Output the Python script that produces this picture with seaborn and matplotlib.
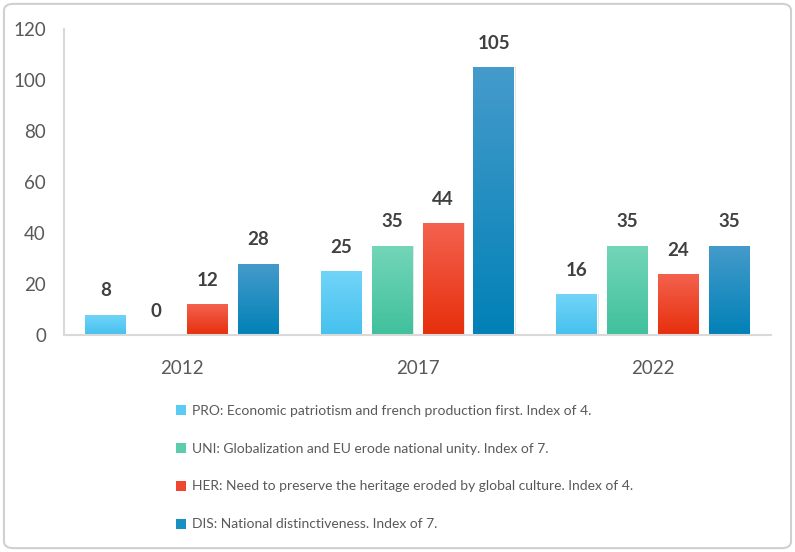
import numpy as np
import pandas as pd
import matplotlib
matplotlib.use("Agg")
import matplotlib.pyplot as plt
import seaborn as sns
from matplotlib.patches import Patch, FancyBboxPatch
from matplotlib.colors import LinearSegmentedColormap

# ---- data ----
years = ["2012", "2017", "2022"]
series = ["PRO", "UNI", "HER", "DIS"]
pro = [8, 25, 16]
uni = [0, 35, 35]
her = [12, 44, 24]
dis = [28, 105, 35]
legend_labels = [
    "PRO: Economic patriotism and french production first. Index of 4.",
    "UNI: Globalization and EU erode national unity. Index of 7.",
    "HER: Need to preserve the heritage eroded by global culture. Index of 4.",
    "DIS: National distinctiveness. Index of 7.",
]

# gradient colours (top, bottom) for each series
grad = {
    "PRO": ("#72d4f8", "#45c1ee"),
    "UNI": ("#74d6b9", "#40c09c"),
    "HER": ("#f4624f", "#e62f0c"),
    "DIS": ("#459bcb", "#0181b7"),
}
solid = {"PRO": "#5bcbf3", "UNI": "#5ccdac", "HER": "#ee4630", "DIS": "#1a8fc2"}

values = {"PRO": pro, "UNI": uni, "HER": her, "DIS": dis}
rows = []
for s in series:
    for y, v in zip(years, values[s]):
        rows.append({"year": y, "series": s, "value": v})
df = pd.DataFrame(rows)

sns.set_theme(style="white")
plt.rcParams["font.family"] = ["Lato", "DejaVu Sans"]

fig = plt.figure(figsize=(7.95, 5.52), dpi=100)
ax = fig.add_axes([64 / 795, 1 - 335 / 552, (771 - 64) / 795, (335 - 29) / 552])

sns.barplot(data=df, x="year", y="value", hue="series", hue_order=series,
            order=years, palette=solid, width=0.864, gap=0.2,
            legend=False, ax=ax, errorbar=None, saturation=1)

ax.set_ylim(0, 120)
ax.set_xlim(-0.5, 2.5)
ax.set_yticks(np.arange(0, 121, 20))
ax.set_xlabel("")
ax.set_ylabel("")

# gradient fill clipped to each bar, plus value labels
for container, s in zip(ax.containers, series):
    cmap = LinearSegmentedColormap.from_list(s, [grad[s][1], grad[s][0]])
    for bar, v in zip(container.patches, values[s]):
        x0, w = bar.get_x(), bar.get_width()
        h = bar.get_height()
        if h > 0:
            # soft shadow behind the bar
            sh = plt.Rectangle((x0 + 0.006, 0), w, h, facecolor="#000000",
                               alpha=0.12, edgecolor="none", zorder=1.5)
            ax.add_patch(sh)
            bar.set_zorder(2)
            img = ax.imshow(np.linspace(0, 1, 256).reshape(-1, 1), cmap=cmap,
                            extent=(x0, x0 + w, 0, h), origin="lower",
                            aspect="auto", zorder=2.1)
            img.set_clip_path(bar)
        ax.annotate(f"{v}", (x0 + w / 2, h), xytext=(0, 11),
                    textcoords="offset points", ha="center", va="bottom",
                    fontsize=13.5, fontweight="bold", color="#404040")
ax.set_xlim(-0.5, 2.5)
ax.set_ylim(0, 120)

for side in ["top", "right"]:
    ax.spines[side].set_visible(False)
for side in ["left", "bottom"]:
    ax.spines[side].set_color("#d9d9d9")
    ax.spines[side].set_linewidth(1.5)
ax.tick_params(axis="y", length=0, pad=13, labelsize=13.5, labelcolor="#595959")
ax.tick_params(axis="x", length=0, pad=18, labelsize=13.5, labelcolor="#595959")
ax.grid(False)

handles = [Patch(facecolor=solid[s], edgecolor="none") for s in series]
fig.legend(handles, legend_labels, loc="upper left",
           bbox_to_anchor=(170 / 795, 1 - 399 / 552), frameon=False,
           fontsize=10, labelcolor="#595959", handlelength=0.75,
           handleheight=0.75, handletextpad=0.4, labelspacing=1.87,
           borderaxespad=0)

# rounded frame around the whole figure
frame = FancyBboxPatch((0.005, 0.007), 0.99, 0.986,
                       boxstyle="round,pad=0,rounding_size=0.012",
                       transform=fig.transFigure, facecolor="none",
                       edgecolor="#d0d0d0", linewidth=1.5)
fig.patches.append(frame)

fig.savefig("out.png", dpi=100)
